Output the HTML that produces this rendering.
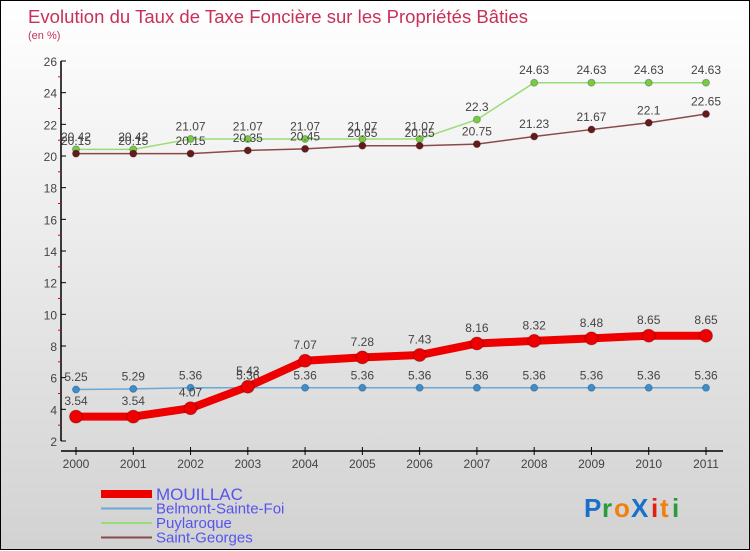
<!DOCTYPE html>
<html><head><meta charset="utf-8"><style>
html,body{margin:0;padding:0}
body{width:750px;height:550px;overflow:hidden;font-family:"Liberation Sans",sans-serif}
#wrap{position:relative;width:748px;height:548px;border:1px solid #000;background:linear-gradient(#ffffff,#d2d2d2)}
svg{position:absolute;left:0;top:0}
</style></head><body>
<div id="wrap">
<svg id="chart" width="750" height="550">
<text x="27" y="22" font-size="18.5" fill="#c8305a" textLength="500">Evolution du Taux de Taxe Foncière sur les Propriétés Bâties</text>
<text x="27" y="38" font-size="11" fill="#c8305a">(en %)</text>
<g id="axes"></g><g id="series"></g><g id="legend"></g>
<g font-size="26" font-weight="bold">
<text x="583" y="516" fill="#1a6fc8">P</text><text x="601" y="516" fill="#2a9a3a">r</text><text x="613" y="516" fill="#f08010">o</text><text x="630" y="516" fill="#1a6fc8">X</text><text x="650" y="516" fill="#e02010">i</text><text x="659" y="516" fill="#f08010">t</text><text x="671" y="516" fill="#2a9a3a">i</text>
</g>
</svg>
</div>
<script>
const years=["2000","2001","2002","2003","2004","2005","2006","2007","2008","2009","2010","2011"];
const mouillac=[3.54,3.54,4.07,5.43,7.07,7.28,7.43,8.16,8.32,8.48,8.65,8.65];
const belmont=[5.25,5.29,5.36,5.36,5.36,5.36,5.36,5.36,5.36,5.36,5.36,5.36];
const puylaroque=[20.42,20.42,21.07,21.07,21.07,21.07,21.07,22.3,24.63,24.63,24.63,24.63];
const stgeorges=[20.15,20.15,20.15,20.35,20.45,20.65,20.65,20.75,21.23,21.67,22.1,22.65];
const yTicks=[2,4,6,8,10,12,14,16,18,20,22,24,26];
const NS="http://www.w3.org/2000/svg";
function xS(i){return 75+i*(630/11);}
function yS(v){return 440-(v-2)*(380/24);}
function mk(tag,attrs,parent){const e=document.createElementNS(NS,tag);for(const k in attrs)e.setAttribute(k,attrs[k]);parent.appendChild(e);return e;}
const axes=document.getElementById('axes');
let l=mk('line',{x1:60,y1:60,x2:60,y2:440,stroke:'#000','stroke-width':1.5},axes);


l=mk('line',{x1:60,y1:450,x2:722,y2:450,stroke:'#000','stroke-width':1.5},axes);


yTicks.forEach((v,i)=>{
  const y=yS(v);
  mk('line',{x1:60,y1:y,x2:65,y2:y,stroke:'#000'},axes);
  const t=mk('text',{x:56,y:y+5,'text-anchor':'end','font-size':12,fill:'#444'},axes);
  t.textContent=v;
  
  
  if(i<yTicks.length-1){mk('line',{x1:57,y1:yS(v+1),x2:60,y2:yS(v+1),stroke:'#e00'},axes);}
});
years.forEach((yr,i)=>{
  const x=xS(i);
  mk('line',{x1:x,y1:446,x2:x,y2:454,stroke:'#000'},axes);
  const t=mk('text',{x:x,y:467,'text-anchor':'middle','font-size':12,fill:'#444'},axes);
  t.textContent=yr;
  
  
});
const series=[
  {name:'puylaroque',data:puylaroque,color:'#99dd77',dot:'#77cc44',w:1.5,r:3.5},
  {name:'saint-georges',data:stgeorges,color:'#8b4a4a',dot:'#661a1a',w:1.5,r:3.5},
  {name:'belmont-sainte-foi',data:belmont,color:'#6aa8d8',dot:'#3b8fd0',w:1.5,r:3.5},
  {name:'mouillac',data:mouillac,color:'#ee0000',dot:'#ee0000',w:8,r:6.5}
];
const sg=document.getElementById('series');
series.forEach(s=>{
  const g=mk('g',{},sg);
  
  
  const p=mk('polyline',{points:s.data.map((v,i)=>xS(i)+','+yS(v)).join(' '),fill:'none',stroke:s.color,'stroke-width':s.w,'stroke-linejoin':'round'},g);
  
  
  s.data.forEach((v,i)=>{
    const c=mk('circle',{cx:xS(i),cy:yS(v),r:s.r,fill:s.dot,stroke:'rgba(0,0,0,0.25)','stroke-width':1},g);
    
    
    const t=mk('text',{x:xS(i),y:yS(v)-(s.r+5),'text-anchor':'middle','font-size':12,fill:'#444'},g);
    t.textContent=String(v);
    
    
  });
});
const lg=document.getElementById('legend');
const items=[['MOUILLAC','#ee0000',8,17],['Belmont-Sainte-Foi','#6aa8d8',2,15],['Puylaroque','#99dd77',2,15],['Saint-Georges','#8b4a4a',2,15]];
items.forEach((it,i)=>{
  const y=493+i*14.5;
  const g=mk('g',{},lg);
  
  
  mk('line',{x1:100,y1:y,x2:151,y2:y,stroke:it[1],'stroke-width':it[2]},g);
  const t=mk('text',{x:155,y:y+(i==0?6:5),'font-size':it[3],fill:'#5555ee'},g);
  t.textContent=it[0];
});
</script>
</body></html>
